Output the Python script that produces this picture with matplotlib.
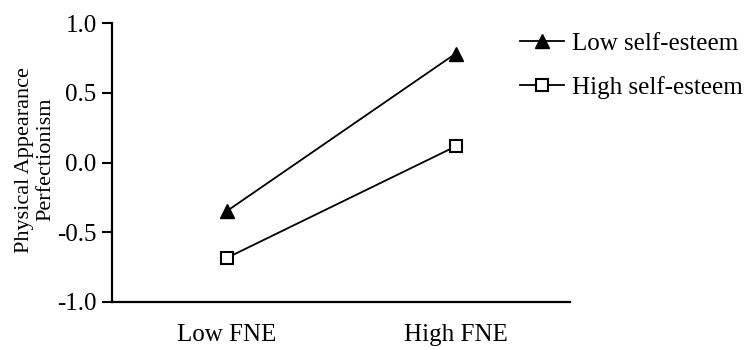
import matplotlib
matplotlib.use("Agg")
import matplotlib.pyplot as plt

categories = ["Low FNE", "High FNE"]
x_pos = [0.25, 0.75]
low_se = [-0.35, 0.78]
high_se = [-0.685, 0.115]
yticks = [-1.0, -0.5, 0.0, 0.5, 1.0]
ytick_labels = ["-1.0", "-0.5", "0.0", "0.5", "1.0"]

plt.rcParams['font.family'] = ['Liberation Serif', 'DejaVu Serif']

fig = plt.figure(figsize=(7.45, 3.5), dpi=100)
ax = fig.add_axes([112/745, 1-302/350, 458/745, 279/350])

ax.plot(x_pos, low_se, color='black', lw=1.3, marker='^', ms=10,
        mfc='black', mec='black', label='Low self-esteem')
ax.plot(x_pos, high_se, color='black', lw=1.3, marker='s', ms=9,
        mfc='white', mec='black', mew=1.5, label='High self-esteem')

ax.set_xlim(0, 1)
ax.set_ylim(-1.0, 1.0)
ax.set_xticks(x_pos)
ax.set_xticklabels(categories, fontsize=18)
ax.set_yticks(yticks)
ax.set_yticklabels(ytick_labels, fontsize=18)
ax.tick_params(axis='x', length=0, pad=16)
ax.tick_params(axis='y', length=7, width=1.5, pad=4, direction='out')
for s in ['top', 'right']:
    ax.spines[s].set_visible(False)
for s in ['left', 'bottom']:
    ax.spines[s].set_linewidth(1.6)

ax.set_ylabel("Physical Appearance\nPerfectionism", fontsize=16, linespacing=1.15)
ax.yaxis.set_label_coords(-0.124, 0.51)

fig.legend(loc='upper left', bbox_to_anchor=(520/745, 1-32/350), frameon=False,
           fontsize=18, handlelength=1.75, handletextpad=0.35, borderpad=0,
           borderaxespad=0, labelspacing=0.85)

fig.savefig("out.png", dpi=100)
